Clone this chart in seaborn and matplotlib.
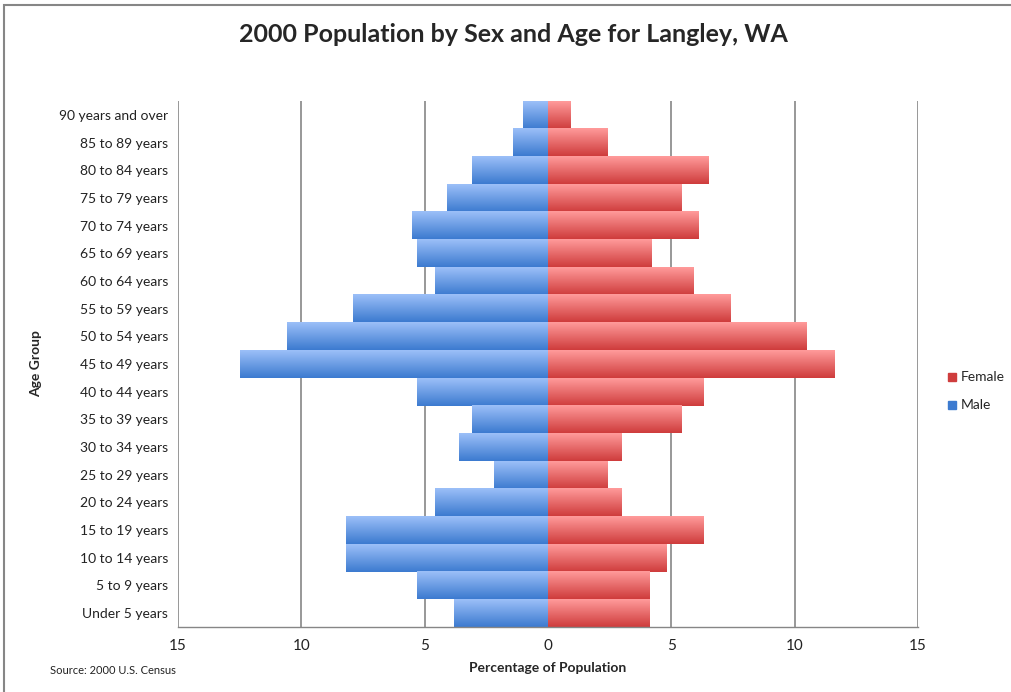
import numpy as np
import pandas as pd
import matplotlib
matplotlib.use("Agg")
import matplotlib.pyplot as plt
import seaborn as sns
from matplotlib.colors import to_rgb
from matplotlib.patches import Rectangle

age_groups = ["90 years and over", "85 to 89 years", "80 to 84 years", "75 to 79 years",
              "70 to 74 years", "65 to 69 years", "60 to 64 years", "55 to 59 years",
              "50 to 54 years", "45 to 49 years", "40 to 44 years", "35 to 39 years",
              "30 to 34 years", "25 to 29 years", "20 to 24 years", "15 to 19 years",
              "10 to 14 years", "5 to 9 years", "Under 5 years"]
male = [1.0, 1.4, 3.1, 4.1, 5.5, 5.3, 4.6, 7.9, 10.6, 12.5,
        5.3, 3.1, 3.6, 2.2, 4.6, 8.2, 8.2, 5.3, 3.8]
female = [0.9, 2.4, 6.5, 5.4, 6.1, 4.2, 5.9, 7.4, 10.5, 11.6,
          6.3, 5.4, 3.0, 2.4, 3.0, 6.3, 4.8, 4.1, 4.1]
x_ticks = [-15, -10, -5, 0, 5, 10, 15]

# gradient colours, light top -> dark bottom (Excel style)
grad = {"Male": ("#9bbff8", "#3d7bd0"), "Female": ("#ff9a9a", "#cf3d3d")}

sns.set_style("white")
plt.rcParams["font.family"] = ["Lato", "DejaVu Sans"]

df = pd.concat([
    pd.DataFrame({"age": age_groups, "pct": -np.array(male), "sex": "Male"}),
    pd.DataFrame({"age": age_groups, "pct": np.array(female), "sex": "Female"}),
])

fig = plt.figure(figsize=(10.11, 6.92), dpi=100)
ax = fig.add_axes([178 / 1011, 1 - 627 / 692, 740 / 1011, 526 / 692])

sns.barplot(data=df, x="pct", y="age", hue="sex", order=age_groups,
            hue_order=["Male", "Female"], dodge=False, width=1.0,
            orient="h", ax=ax, legend=False, linewidth=0)

# replace flat fills with vertical gradients
for patch in list(ax.patches):
    x0, y0 = patch.get_x(), patch.get_y()
    w, h = patch.get_width(), patch.get_height()
    if w == 0 or np.isnan(w):
        continue
    key = "Male" if w < 0 else "Female"
    c1, c2 = np.array(to_rgb(grad[key][0])), np.array(to_rgb(grad[key][1]))
    t = np.linspace(0, 1, 32)[:, None, None]
    img = c1 * (1 - t) + c2 * t
    ax.imshow(img, extent=(x0, x0 + w, y0 + h, y0), origin="upper",
              aspect="auto", zorder=2, interpolation="bilinear")
    patch.set_visible(False)

ax.set_xlim(-15, 15)
ax.set_ylim(len(age_groups) - 0.5, -0.5)
ax.set_xticks(x_ticks)
ax.set_xticklabels([str(abs(v)) for v in x_ticks], fontsize=11, color="#222222")
ax.tick_params(axis="x", direction="out", length=5, color="#868686", pad=4)
ax.tick_params(axis="y", length=0, labelsize=10, colors="#222222", pad=7)

for v in [-15, -10, -5, 5, 10, 15]:
    ax.axvline(v, color="#868686", lw=1.2, zorder=1)
ax.axvline(0, color="#868686", lw=1.0, zorder=1)

for s in ["top", "right", "left"]:
    ax.spines[s].set_visible(False)
ax.spines["bottom"].set_color("#868686")
ax.spines["bottom"].set_linewidth(1.0)

ax.set_xlabel("Percentage of Population", fontsize=10, fontweight="bold")
ax.xaxis.set_label_coords(0.5, -(662 - 627) / 526)
ax.set_ylabel("Age Group", fontsize=10, fontweight="bold")
ax.yaxis.set_label_coords(-(178 - 42) / 740, 0.5)

fig.text(513 / 1011, 1 - 35 / 692, "2000 Population by Sex and Age for Langley, WA",
         ha="center", va="center", fontsize=18, fontweight="bold")
fig.text(50 / 1011, 1 - 671 / 692, "Source: 2000 U.S. Census", fontsize=8,
         ha="left", va="center", color="#222222")

# legend
for label, y in [("Female", 377), ("Male", 405)]:
    fig.patches.append(Rectangle((948 / 1011, 1 - (y + 4) / 692), 8 / 1011, 8 / 692,
                                 transform=fig.transFigure, color=grad[label][1]))
    fig.text(961 / 1011, 1 - y / 692, label, fontsize=10, va="center", ha="left")

# outer chart border
fig.patches.append(Rectangle((4 / 1011, -0.05), 1.1, 1 - 5 / 692 + 0.05,
                             transform=fig.transFigure, fill=False,
                             edgecolor="#868686", lw=1.5))

fig.savefig("out.png", dpi=100)
